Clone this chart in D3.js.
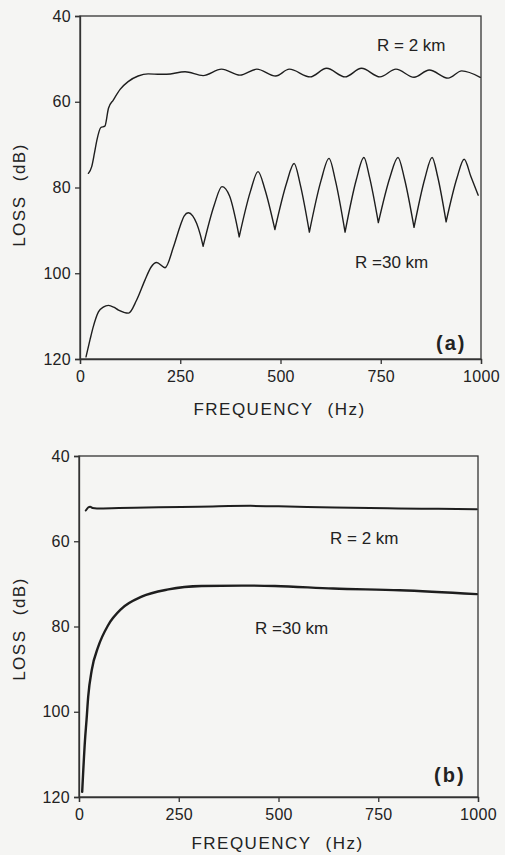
<!DOCTYPE html>
<html><head><meta charset="utf-8">
<script src="https://cdn.jsdelivr.net/npm/d3@7/dist/d3.min.js"></script>
<style>
html,body{margin:0;padding:0;background:#f5f5f3;}
svg{display:block;}
text{font-family:"Liberation Sans",Arial,sans-serif;fill:#222;}
</style></head>
<body>
<svg id="chart" width="505" height="855"></svg>
<script>
// ---- data ----
const ticksX = [0, 250, 500, 750, 1000];
const ticksY = [40, 60, 80, 100, 120];
const xTitle = "FREQUENCY (Hz)";
const yTitle = "LOSS (dB)";
const panelLabels = ["(a)", "(b)"];
const rangeLabels = ["R = 2 km", "R =30 km"];

// panel (a), R = 2 km
const freqA2 = [21, 29, 36, 42, 52, 62, 71, 83, 100, 120, 145, 170, 200, 216, 262, 307, 353, 399, 441, 488, 522, 574, 615, 661, 702, 748, 788, 833, 871, 918, 952, 998];
const lossA2 = [76.7, 75.2, 72.0, 69.0, 66.0, 65.7, 61.5, 59.6, 57.1, 55.3, 54.0, 53.5, 53.6, 53.6, 53.0, 53.9, 52.4, 53.8, 52.4, 54.0, 52.4, 54.2, 52.2, 54.2, 52.2, 54.2, 52.4, 54.3, 52.6, 54.5, 52.8, 54.3];

// panel (a), R = 30 km
const freqA30 = [15, 25, 33, 46, 58, 71, 84, 96, 121, 141, 162, 177, 191, 212, 233, 249, 260, 270, 281, 291, 300, 307, 335, 354, 373, 397, 425, 444, 461, 486, 515, 534, 549, 572, 601, 621, 637, 661, 689, 708, 722, 744, 773, 793, 809, 833, 860, 878, 892, 913, 940, 958, 975, 993];
const lossA30 = [119.5, 115.5, 112.5, 109.0, 107.9, 107.5, 107.9, 108.6, 109.3, 106.3, 101.6, 98.6, 97.5, 98.7, 93.9, 89.2, 86.6, 85.9, 86.6, 88.4, 91.0, 93.7, 84.0, 79.8, 82.0, 91.5, 80.9, 76.3, 80.4, 89.8, 79.0, 74.4, 79.2, 90.4, 78.4, 73.2, 78.4, 90.4, 78.2, 73.0, 77.6, 88.2, 77.6, 73.0, 77.9, 89.3, 77.9, 73.0, 77.5, 88.0, 77.8, 73.4, 77.5, 81.8];

// panel (b), R = 2 km
const freqB2 = [17, 23, 28, 34, 45, 100, 200, 300, 430, 500, 640, 800, 900, 997];
const lossB2 = [52.8, 52.1, 51.9, 52.2, 52.3, 52.2, 52.0, 51.9, 51.7, 51.8, 52.1, 52.3, 52.4, 52.5];

// panel (b), R = 30 km
const freqB30 = [8, 15, 19, 23, 32, 48, 73, 107, 157, 224, 307, 408, 491, 637, 804, 997];
const lossB30 = [118.8, 106.7, 101.8, 96.5, 90.2, 84.8, 79.7, 75.8, 73.0, 71.3, 70.5, 70.4, 70.5, 71.1, 71.5, 72.4];

// ---- drawing ----
const svg = d3.select("#chart");
const zip = (f, l) => f.map((v, i) => ({f: v, l: l[i]}));

// split a series into pieces at its sharp minima (local loss maxima) above a frequency
function splitAtCusps(pts, fromF) {
  if (fromF == null) return [pts];
  const parts = [];
  let cur = [pts[0]];
  for (let i = 1; i < pts.length; i++) {
    cur.push(pts[i]);
    const isCusp = i < pts.length - 1 && pts[i].f >= fromF &&
      pts[i].l > pts[i - 1].l && pts[i].l > pts[i + 1].l;
    if (isCusp) { parts.push(cur); cur = [pts[i]]; }
  }
  parts.push(cur);
  return parts;
}

const panels = [
  {x0: 80, y0: 16, w: 401, h: 343,
   series: [[freqA2, lossA2, 1.4, null], [freqA30, lossA30, 1.4, 300]],
   labels: [[377, 51, 0], [355, 268, 1]], tag: [436, 350, 0], yTitleY: 195, xTitleY: 415},
  {x0: 79, y0: 456, w: 399, h: 341,
   series: [[freqB2, lossB2, 2.0, null], [freqB30, lossB30, 2.4, null]],
   labels: [[330, 544, 0], [255, 634, 1]], tag: [434, 782, 1], yTitleY: 629, xTitleY: 849}
];

panels.forEach(p => {
  const x = d3.scaleLinear().domain([0, 1000]).range([p.x0, p.x0 + p.w]);
  const y = d3.scaleLinear().domain([40, 120]).range([p.y0, p.y0 + p.h]);

  svg.append("rect").attr("x", p.x0).attr("y", p.y0).attr("width", p.w).attr("height", p.h)
    .attr("fill", "none").attr("stroke", "#333").attr("stroke-width", 1.3);

  const gx = svg.append("g").attr("transform", `translate(0,${p.y0 + p.h})`)
    .call(d3.axisBottom(x).tickValues(ticksX).tickSize(5).tickPadding(7).tickFormat(d3.format("d")));
  const gy = svg.append("g").attr("transform", `translate(${p.x0},0)`)
    .call(d3.axisLeft(y).tickValues(ticksY).tickSize(5).tickPadding(4).tickFormat(d3.format("d")));
  [gx, gy].forEach(g => {
    g.select(".domain").attr("stroke", "#333").attr("stroke-width", 1.3);
    g.selectAll(".tick line").attr("stroke", "#333").attr("stroke-width", 1.3);
    g.selectAll(".tick text").attr("font-family", "Liberation Sans, Arial, sans-serif")
      .attr("font-size", 16).attr("letter-spacing", 0.3).attr("fill", "#222");
  });

  const line = d3.line().x(d => x(d.f)).y(d => y(d.l)).curve(d3.curveMonotoneX);
  p.series.forEach(([f, l, sw, cuspFrom]) => {
    const pieces = splitAtCusps(zip(f, l), cuspFrom);
    svg.append("path").attr("d", pieces.map(pc => line(pc)).join(""))
      .attr("fill", "none").attr("stroke", "#1e1e1e").attr("stroke-width", sw)
      .attr("stroke-linejoin", "round").attr("stroke-linecap", "round");
  });

  p.labels.forEach(([lx, ly, i]) => {
    svg.append("text").attr("x", lx).attr("y", ly).attr("font-size", 17).text(rangeLabels[i]);
  });
  svg.append("text").attr("x", p.tag[0]).attr("y", p.tag[1]).attr("font-size", 20)
    .attr("font-weight", "bold").attr("letter-spacing", 2).text(panelLabels[p.tag[2]]);

  svg.append("text").attr("x", p.x0 + p.w / 2 - 1).attr("y", p.xTitleY).attr("text-anchor", "middle")
    .attr("font-size", 17).attr("letter-spacing", 1.5).attr("word-spacing", 8).text(xTitle);
  svg.append("text").attr("transform", `translate(25,${p.yTitleY}) rotate(-90)`).attr("text-anchor", "middle")
    .attr("font-size", 17).attr("letter-spacing", 1.5).attr("word-spacing", 8).text(yTitle);
});
</script>
</body></html>
